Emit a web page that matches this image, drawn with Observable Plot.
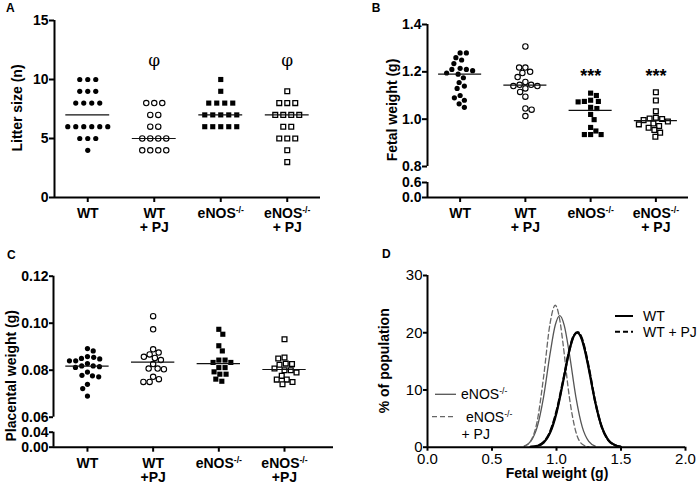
<!DOCTYPE html>
<html><head><meta charset="utf-8">
<script src="https://cdn.jsdelivr.net/npm/d3@7"></script>
<script src="https://cdn.jsdelivr.net/npm/@observablehq/plot@0.6"></script>
<style>
body{margin:0;background:#fff;}
#wrap{position:relative;width:700px;height:484px;overflow:hidden;background:#fff;}
</style></head><body><div id="wrap"></div>
<script>
// ---------- data ----------
const groups = ["WT", "WT + PJ", "eNOS-/-", "eNOS-/- + PJ"];
const tickLabelsAB = ["WT", "WT\n+ PJ", "eNOS-/-", "eNOS-/-\n+ PJ"];
const tickLabelsC = ["WT", "WT\n+PJ", "eNOS-/-", "eNOS-/-\n+PJ"];

// A: litter size (n)
const litterWT = [10,10,10,9,9,9,8,8,8,8,6,6,6,6,6,6,5,5,5,4];
const litterWTPJ = [8,8,8,7,7,6,6,5,5,5,5,4,4,4,4];
const litterENOS = [10,9,8,8,8,8,7,7,7,7,7,6,6,6,6,6];
const litterENOSPJ = [9,8,8,8,7,7,7,7,6,6,5,5,5,4,3];
const litterMedian = [7,5,7,7];
const litterSig = ["", "φ", "", "φ"];
const litterSigLevel = 11.6;

// B: fetal weight (g)
const fetalWT = [1.28,1.28,1.26,1.25,1.235,1.215,1.21,1.205,1.21,1.19,1.195,1.175,1.155,1.14,1.13,1.10,1.09,1.08,1.065,1.05];
const fetalWTPJ = [1.307,1.218,1.218,1.20,1.195,1.178,1.145,1.14,1.14,1.145,1.157,1.13,1.115,1.095,1.045,1.04,1.013];
const fetalENOS = [1.11,1.10,1.08,1.075,1.075,1.073,1.05,1.045,1.02,0.998,0.965,0.935,0.935,0.935,0.95];
const fetalENOSPJ = [1.114,1.079,1.033,1.003,0.996,1.001,1.006,0.982,0.971,0.978,0.954,0.964,0.943,0.926,0.99];
const fetalMedian = [1.19,1.144,1.037,0.994];
const fetalSig = ["", "", "***", "***"];
const fetalSigLevel = 1.2;
const fetalTicks = [0, 0.6, 0.8, 1.0, 1.2, 1.4];
const fetalBreak = [0, 0.6, 0.8, 1.4];          // broken axis: lower and upper parts
const fetalAxisParts = [[0, 0.6], [0.8, 1.4]];

// C: placental weight (g)
const placWT = [0.0892,0.0882,0.0855,0.0850,0.0858,0.0848,0.0840,0.0840,0.0818,0.0818,0.0815,0.0828,0.0812,0.0776,0.0778,0.0792,0.0772,0.0740,0.0722,0.0690];
const placWTPJ = [0.103,0.0974,0.0889,0.0857,0.0875,0.0867,0.0852,0.0843,0.0826,0.0807,0.0807,0.0804,0.0762,0.0750,0.0750,0.0772];
const placENOS = [0.0974,0.0953,0.0904,0.0882,0.0843,0.0833,0.0833,0.0843,0.0811,0.0811,0.0793,0.0783,0.0783,0.0753,0.0762];
const placENOSPJ = [0.0932,0.0850,0.0854,0.0826,0.0828,0.0800,0.0790,0.0776,0.0800,0.0807,0.0760,0.0740,0.0750,0.0760,0.0823];
const placMedian = [0.0817,0.0834,0.0828,0.0803];
const placTicks = [0, 0.04, 0.06, 0.08, 0.10, 0.12];
const placBreak = [0, 0.04, 0.06, 0.12];
const placAxisParts = [[0, 0.04], [0.06, 0.12]];

// D: distribution of fetal weight, % of population
const distWT = [[0.80,0.05],[0.85,0.2],[0.90,0.8],[0.95,2.5],[1.00,6.0],[1.05,11.3],[1.10,16.9],[1.13,19.2],[1.16,20.0],[1.19,19.2],[1.22,16.9],[1.25,13.7],[1.30,7.9],[1.35,3.6],[1.40,1.3],[1.45,0.4],[1.50,0.08]];
const distWTPJ = [[0.80,0.05],[0.85,0.25],[0.90,0.9],[0.95,2.7],[1.00,6.3],[1.05,11.5],[1.10,17.0],[1.13,19.3],[1.165,20.1],[1.19,19.4],[1.22,17.2],[1.25,14.0],[1.30,8.0],[1.35,3.6],[1.40,1.3],[1.45,0.4],[1.50,0.1]];
const distENOS = [[0.75,0.2],[0.80,1.0],[0.85,3.5],[0.90,8.8],[0.95,16.3],[0.99,21.3],[1.025,23.0],[1.06,21.3],[1.10,16.3],[1.15,8.8],[1.20,3.5],[1.25,1.0],[1.30,0.2]];
const distENOSPJ = [[0.75,0.17],[0.80,1.1],[0.85,4.5],[0.90,12.3],[0.95,21.6],[0.99,24.8],[1.03,21.6],[1.05,18.2],[1.10,8.7],[1.15,2.7],[1.20,0.5],[1.25,0.07]];
const distXTicks = [0, 0.5, 1.0, 1.5, 2.0];
const distYTicks = [0, 10, 20, 30];

// ---------- helpers ----------
const FONT = '"Liberation Sans", Arial, Helvetica, sans-serif';
const wrap = document.getElementById("wrap");
function place(svg, left, top) {
  svg.style.position = "absolute"; svg.style.left = left + "px"; svg.style.top = top + "px";
  wrap.appendChild(svg);
}
const SVGNS = "http://www.w3.org/2000/svg";
function supify(svg) {
  svg.querySelectorAll("text, tspan").forEach(el => {
    for (const node of Array.from(el.childNodes)) {
      if (node.nodeType === 3 && node.nodeValue.includes("-/-")) {
        const parts = node.nodeValue.split("-/-");
        const frag = document.createDocumentFragment();
        parts.forEach((p, i) => {
          if (i > 0) {
            const t = document.createElementNS(SVGNS, "tspan");
            t.setAttribute("baseline-shift", "super");
            t.setAttribute("font-size", "0.62em");
            t.textContent = "-/-";
            frag.appendChild(t);
          }
          if (p) frag.appendChild(document.createTextNode(p));
        });
        el.replaceChild(frag, node);
      }
    }
  });
}
function rowLayout(values, gi, spacingPx, pxPerUnit) {
  const counts = d3.rollup(values, v => v.length, d => d);
  const seen = new Map();
  return values.map(v => {
    const n = counts.get(v), i = seen.get(v) || 0; seen.set(v, i + 1);
    return {g: gi, v, x: gi + (i - (n - 1) / 2) * spacingPx / pxPerUnit};
  });
}
function swarm(values, gi, yPx, pxPerUnit, minDist) {
  const pts = values.map(v => ({g: gi, v, py: yPx(v)}));
  const order = pts.slice().sort((a, b) => a.py - b.py);
  const placed = [];
  order.forEach((p, j) => {
    let off = null;
    for (let k = 0; off === null && k < 400; k++) {
      const d = k * 0.25;
      const cands = k === 0 ? [0] : (j % 2 ? [d, -d] : [-d, d]);
      for (const c of cands) {
        if (placed.every(q => (q.ox - c) ** 2 + (q.py - p.py) ** 2 >= minDist * minDist)) { off = c; break; }
      }
    }
    p.ox = off; placed.push(p);
  });
  return pts.map(p => ({g: gi, v: p.v, x: gi + p.ox / pxPerUnit}));
}
const markStyles = [
  {symbol: "circle", fill: "black", stroke: "none", r: 2.6},
  {symbol: "circle", fill: "white", stroke: "black", strokeWidth: 1.1, r: 2.7},
  {symbol: "square", fill: "black", stroke: "none", r: 2.9},
  {symbol: "square", fill: "white", stroke: "black", strokeWidth: 1.3, r: 2.7}
];
function dotMarks(pts) {
  return markStyles.map((s, k) => Plot.dot(pts.filter(p => p.g === k + 1), {x: "x", y: "v", ...s}));
}
function medianMarks(med) {
  return Plot.ruleY(med, {y: d => d, x1: (d, i) => i + 1 - 0.33, x2: (d, i) => i + 1 + 0.33, stroke: "#111", strokeWidth: 1.2});
}
function addText(svg, txt, x, y, opts = {}) {
  const t = d3.select(svg).append("text").attr("x", x).attr("y", y).text(txt)
    .attr("font-family", opts.family || FONT).attr("font-size", opts.size || 14)
    .attr("font-weight", opts.weight || "bold").attr("fill", "black")
    .attr("text-anchor", opts.anchor || "start");
  if (opts.rotate) t.attr("transform", `rotate(-90 ${x} ${y})`);
  if (opts.dy) t.attr("dy", opts.dy);
  return t;
}
const boldStyle = {fontFamily: FONT, fontSize: "14px", fontWeight: "bold", background: "transparent", overflow: "visible"};

// ---------- Panel A ----------
{
  const pxU = (320 - 54) / 4;
  const pts = [litterWT, litterWTPJ, litterENOS, litterENOSPJ].flatMap((vals, k) => rowLayout(vals, k + 1, 8, pxU));
  const svg = Plot.plot({
    width: 350, height: 235, marginLeft: 54, marginRight: 30, marginTop: 20, marginBottom: 38,
    style: boldStyle,
    x: {domain: [0.5, 4.5], axis: null},
    y: {domain: [0, 15], axis: null},
    marks: [
      ...dotMarks(pts),
      medianMarks(litterMedian),
      Plot.text(litterSig, {x: (d, i) => i + 1, y: litterSigLevel, text: d => d, fill: "black", fontFamily: '"DejaVu Serif", "Liberation Serif", serif', fontSize: 17, fontWeight: "normal", lineAnchor: "middle"}),
      Plot.ruleY([0], {strokeWidth: 2}),
      Plot.ruleX([0.5], {y1: 0, y2: 15, strokeWidth: 2}),
      Plot.axisX({ticks: [1, 2, 3, 4], tickFormat: i => tickLabelsAB[i - 1], tickSize: 5, tickPadding: 6, strokeWidth: 2, label: null, fontSize: 14}),
      Plot.axisY({ticks: [0, 5, 10, 15], tickSize: 5, tickPadding: 1, strokeWidth: 2, label: null, fontSize: 14})
    ]
  });
  addText(svg, "A", 6, 11.7, {size: 12});
  addText(svg, "Litter size (n)", 17, 108, {anchor: "middle", rotate: true, dy: "0.35em"});
  supify(svg);
  place(svg, 0, 0);
}

// ---------- Panel B ----------
{
  // piecewise (broken) axis: lower part compressed, in pixels from the x-axis
  const brk = d3.scaleLinear(fetalBreak, [0, 15, 31, 173]);
  const yPx = v => 197 - brk(v);
  const fmt = d3.format(".1f");
  const pxU = (338 - 77) / 4;
  const pts = [fetalWT, fetalWTPJ, fetalENOS, fetalENOSPJ].flatMap((vals, k) => swarm(vals, k + 1, yPx, pxU, 6.2));
  const svg = Plot.plot({
    width: 350, height: 235, marginLeft: 77, marginRight: 12, marginTop: 24, marginBottom: 38,
    style: boldStyle,
    x: {domain: [0.5, 4.5], axis: null},
    y: {transform: brk, domain: [0, 173], axis: null},
    marks: [
      ...dotMarks(pts),
      medianMarks(fetalMedian),
      Plot.text(fetalSig, {x: (d, i) => i + 1, y: fetalSigLevel, text: d => d, fill: "black", fontSize: 18, fontWeight: "bold", lineAnchor: "middle", dy: 4}),
      Plot.ruleY([0], {strokeWidth: 2}),
      Plot.ruleX(fetalAxisParts, {x: 0.5, y1: d => d[0], y2: d => d[1], strokeWidth: 2}),
      Plot.axisX({ticks: [1, 2, 3, 4], tickFormat: i => tickLabelsAB[i - 1], tickSize: 5, tickPadding: 6, strokeWidth: 2, label: null, fontSize: 14}),
      Plot.axisY({ticks: fetalTicks.map(brk), tickFormat: t => fmt(brk.invert(t)), tickSize: 5, tickPadding: 1, strokeWidth: 2, label: null, fontSize: 14})
    ]
  });
  addText(svg, "B", 21.7, 11.7, {size: 12});
  addText(svg, "Fetal weight (g)", 42.5, 110, {anchor: "middle", rotate: true, dy: "0.35em"});
  supify(svg);
  place(svg, 350, 0);
}

// ---------- Panel C ----------
{
  const brk = d3.scaleLinear(placBreak, [0, 15, 30, 171]);
  const yPx = v => 211.7 - brk(v);
  const fmt = d3.format(".2f");
  const xDom = [0.483, 4.746];
  const pxU = (333 - 53) / (xDom[1] - xDom[0]);
  const pts = [placWT, placWTPJ, placENOS, placENOSPJ].flatMap((vals, k) => swarm(vals, k + 1, yPx, pxU, 6.2));
  const svg = Plot.plot({
    width: 350, height: 249, marginLeft: 53, marginRight: 17, marginTop: 40.7, marginBottom: 37.3,
    style: boldStyle,
    x: {domain: xDom, axis: null},
    y: {transform: brk, domain: [0, 171], axis: null},
    marks: [
      ...dotMarks(pts),
      medianMarks(placMedian),
      Plot.ruleY([0], {strokeWidth: 2}),
      Plot.ruleX(placAxisParts, {x: xDom[0], y1: d => d[0], y2: d => d[1], strokeWidth: 2}),
      Plot.axisX({ticks: [1, 2, 3, 4], tickFormat: i => tickLabelsC[i - 1], tickSize: 5, tickPadding: 6, strokeWidth: 2, label: null, fontSize: 14}),
      Plot.axisY({ticks: placTicks.map(brk), tickFormat: t => fmt(brk.invert(t)), tickSize: 4, tickPadding: 1, strokeWidth: 2, label: null, fontSize: 14})
    ]
  });
  addText(svg, "C", 7, 24.3, {size: 12});
  addText(svg, "Placental weight (g)", 11.5, 140.8, {anchor: "middle", rotate: true, dy: "0.35em"});
  supify(svg);
  place(svg, 0, 235);
}

// ---------- Panel D ----------
{
  const line = (data, o) => Plot.line(data, {x: d => d[0], y: d => d[1], curve: "monotone-x", ...o});
  const svg = Plot.plot({
    width: 350, height: 249, marginLeft: 77, marginRight: 15, marginTop: 40, marginBottom: 37.3,
    style: {fontFamily: FONT, fontSize: "15px", fontWeight: "normal", background: "transparent", overflow: "visible"},
    x: {domain: [0, 2], axis: null},
    y: {domain: [0, 30], axis: null},
    marks: [
      line(distENOS, {stroke: "#555", strokeWidth: 1.3}),
      line(distENOSPJ, {stroke: "#666", strokeWidth: 1.3, strokeDasharray: "5,3"}),
      line(distWT, {stroke: "black", strokeWidth: 2.2}),
      line(distWTPJ, {stroke: "black", strokeWidth: 2.2, strokeDasharray: "6,3"}),
      Plot.ruleY([0], {strokeWidth: 2}),
      Plot.ruleX([0], {strokeWidth: 2}),
      Plot.axisX({ticks: distXTicks, tickFormat: d3.format(".1f"), tickSize: 4, tickPadding: 2, strokeWidth: 2, label: null, fontSize: 15}),
      Plot.axisY({ticks: distYTicks, tickSize: 4, tickPadding: 1, strokeWidth: 2, label: null, fontSize: 15})
    ]
  });
  addText(svg, "D", 32, 22.7, {size: 12});
  addText(svg, "% of population", 34.2, 125.8, {anchor: "middle", rotate: true, dy: "0.35em"});
  addText(svg, "Fetal weight (g)", 207, 243, {anchor: "middle"});
  // legend
  const g = d3.select(svg).append("g");
  const legend = [
    {x1: 265, x2: 283, y: 81, stroke: "black", w: 2, dash: null, tx: 293, lines: ["WT"]},
    {x1: 265, x2: 283, y: 96.7, stroke: "black", w: 2, dash: "5,3", tx: 293, lines: ["WT + PJ"]},
    {x1: 85, x2: 106, y: 159.3, stroke: "#555", w: 1.3, dash: null, tx: 111, lines: ["eNOS-/-"]},
    {x1: 82, x2: 106, y: 181.7, stroke: "#666", w: 1.3, dash: "5,3", tx: 116, lines: ["eNOS-/-", "+ PJ"]}
  ];
  legend.forEach(L => {
    g.append("line").attr("x1", L.x1).attr("x2", L.x2).attr("y1", L.y).attr("y2", L.y)
      .attr("stroke", L.stroke).attr("stroke-width", L.w).attr("stroke-dasharray", L.dash);
    L.lines.forEach((s, i) => {
      addText(svg, s, i === 0 ? L.tx : L.tx - 4.5, L.y + i * 17.6, {weight: "normal", size: 14, dy: "0.35em"});
    });
  });
  supify(svg);
  place(svg, 350, 235);
}
</script></body></html>
